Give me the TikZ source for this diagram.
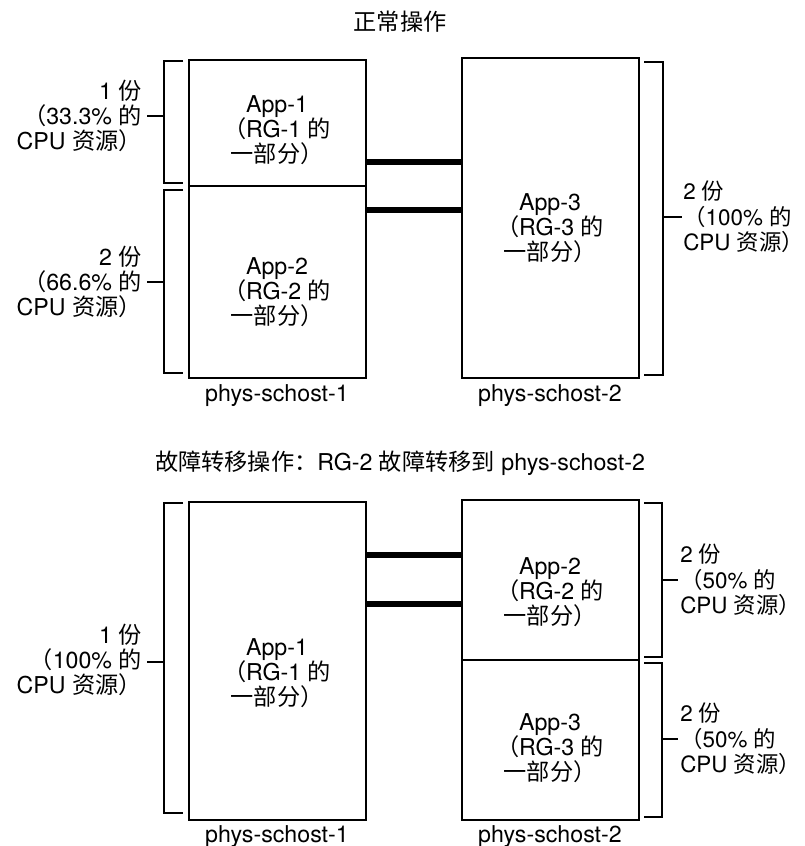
\documentclass[tikz,border=0pt]{standalone}
\usepackage{fontspec}
\setmainfont{TeX Gyre Heros}
\newfontfamily\cjkfont{Noto Sans CJK SC}
\newcommand\zhtx[1]{{\cjkfont #1}}
\newcommand\zhclose{{\cjkfont\makebox[0.5em][l]{）}}}
\usetikzlibrary{fit}
\begin{document}
\begin{tikzpicture}[x=0.75pt,y=-0.75pt,
  font=\fontsize{17.4pt}{19pt}\selectfont,
  box/.style={draw, line width=1pt, inner sep=0pt},
  link/.style={line width=3.8pt},
  brk/.style={line width=0.9pt},
  txt/.style={align=center, inner sep=0pt},
  lbl/.style={align=right, anchor=east, inner sep=0pt},
  rbl/.style={align=left, anchor=west, inner sep=0pt, font=\fontsize{16.8pt}{19pt}\selectfont},
  hostlbl/.style={inner sep=0pt}]
\fill[white] (0,0) rectangle (804,846);
\useasboundingbox (0,0) rectangle (804,846);

% ---------- top: normal operation ----------
\node[inner sep=0pt] (t1) at (400,22) {\zhtx{正常操作}};

\node[box, fit={(189,60) (366,186)}] (A1) {};
\node[box, fit={(189,186) (366,378)}] (A2) {};
\node[box, fit={(462,58) (639,378)}] (A3) {};

\node[txt] (A1t) at (277,130) {App-1\\\zhtx{（}RG-1 \zhtx{的}\\\zhtx{一部分）}};
\node[txt] (A2t) at (277,292) {App-2\\\zhtx{（}RG-2 \zhtx{的}\\\zhtx{一部分）}};
\node[txt] (A3t) at (550,228) {App-3\\\zhtx{（}RG-3 \zhtx{的}\\\zhtx{一部分）}};

\coordinate (ya) at (0,162);
\coordinate (yb) at (0,210);
\draw[link] (A1.east |- ya) -- (A3.west |- ya);
\draw[link] (A1.east |- yb) -- (A3.west |- yb);

\node[hostlbl] (h1) at (277,396) {phys-schost-1};
\node[hostlbl] (h2) at (550,396) {phys-schost-2};

% left brackets
\draw[brk] (183,61) -- (164,61) -- (164,183) -- (183,183);
\draw[brk] (164,116) -- (147,116);
\draw[brk] (183,190) -- (164,190) -- (164,373) -- (183,373);
\draw[brk] (164,282) -- (147,282);
% right bracket
\draw[brk] (644,62) -- (663,62) -- (663,375) -- (644,375);
\draw[brk] (663,217) -- (682,217);

\node[lbl] (L1) at (142,116) {1 \zhtx{份}\\\zhtx{（}33.3\% \zhtx{的}\\CPU \zhtx{资源）}};
\node[lbl] (L2) at (142,282) {2 \zhtx{份}\\\zhtx{（}66.6\% \zhtx{的}\\CPU \zhtx{资源）}};
\node[rbl] (R1) at (683,217) {2 \zhtx{份}\\\zhtx{（}100\% \zhtx{的}\\CPU \zhtx{资源}\zhclose};

% ---------- bottom: failover ----------
\node[inner sep=0pt] (t2) at (400,463) {\zhtx{故障转移操作：}RG-2 \zhtx{故障转移到} phys-schost-2};

\node[box, fit={(189,502) (366,820)}] (B1) {};
\node[box, fit={(462,500) (639,660)}] (B2) {};
\node[box, fit={(462,660) (639,820)}] (B3) {};

\node[txt] (B1t) at (277,673) {App-1\\\zhtx{（}RG-1 \zhtx{的}\\\zhtx{一部分）}};
\node[txt] (B2t) at (550,592) {App-2\\\zhtx{（}RG-2 \zhtx{的}\\\zhtx{一部分）}};
\node[txt] (B3t) at (550,748) {App-3\\\zhtx{（}RG-3 \zhtx{的}\\\zhtx{一部分）}};

\coordinate (yc) at (0,555);
\coordinate (yd) at (0,604);
\draw[link] (B1.east |- yc) -- (B2.west |- yc);
\draw[link] (B1.east |- yd) -- (B2.west |- yd);

\node[hostlbl] (h3) at (277,837) {phys-schost-1};
\node[hostlbl] (h4) at (550,837) {phys-schost-2};

\draw[brk] (183,503) -- (164,503) -- (164,813) -- (183,813);
\draw[brk] (164,662) -- (147,662);
\draw[brk] (644,503) -- (662,503) -- (662,657) -- (644,657);
\draw[brk] (662,580) -- (678,580);
\draw[brk] (644,663) -- (662,663) -- (662,817) -- (644,817);
\draw[brk] (662,739) -- (678,739);

\node[lbl] (L3) at (142,660) {1 \zhtx{份}\\\zhtx{（}100\% \zhtx{的}\\CPU \zhtx{资源）}};
\node[rbl] (R2) at (680,580) {2 \zhtx{份}\\\zhtx{（}50\% \zhtx{的}\\CPU \zhtx{资源}\zhclose};
\node[rbl] (R3) at (680,739) {2 \zhtx{份}\\\zhtx{（}50\% \zhtx{的}\\CPU \zhtx{资源}\zhclose};
\end{tikzpicture}
\end{document}
